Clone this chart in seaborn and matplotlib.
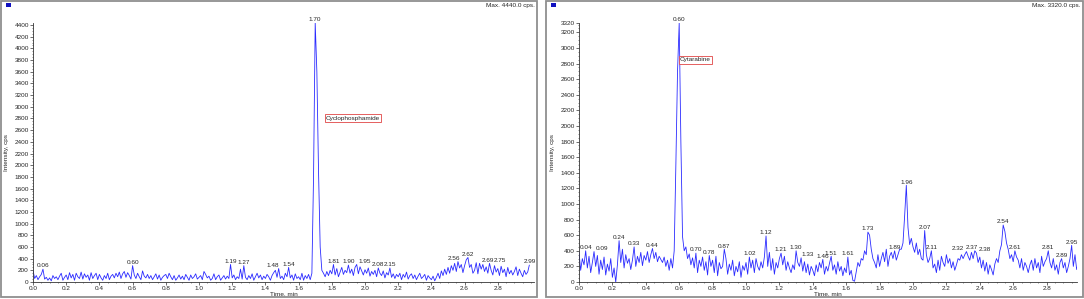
import numpy as np
import matplotlib.pyplot as plt
import seaborn as sns
from matplotlib.patches import Rectangle
from matplotlib.ticker import MultipleLocator

# --- data (cps every 0.01 min) ---
step = 0.01
left_cps = [
    200, 60, 110, 40, 90, 130, 220, 50, 80, 30,
    70, 20, 110, 60, 90, 40, 100, 150, 30, 80,
    120, 40, 160, 70, 130, 30, 150, 90, 60, 170,
    50, 140, 80, 120, 30, 160, 60, 110, 150, 40,
    130, 70, 30, 110, 60, 150, 40, 100, 130, 70,
    150, 90, 170, 60, 140, 180, 80, 160, 110, 50,
    280, 120, 60, 150, 90, 40, 190, 100, 70, 130,
    60, 110, 40, 90, 140, 50, 120, 30, 80, 110,
    130, 60, 150, 90, 40, 110, 30, 70, 120, 50,
    100, 40, 130, 80, 30, 120, 60, 90, 140, 50,
    80, 110, 40, 180, 130, 70, 100, 30, 60, 140,
    40, 90, 120, 30, 70, 110, 50, 100, 60, 300,
    70, 120, 40, 90, 60, 220, 50, 280, 80, 40,
    110, 60, 140, 30, 90, 150, 70, 120, 40, 100,
    60, 130, 90, 30, 110, 160, 200, 80, 230, 60,
    100, 40, 150, 90, 250, 70, 120, 30, 140, 60,
    90, 40, 150, 30, 110, 60, 130, 40, 150, 1800,
    4440, 3600, 1900, 600, 200, 150, 90, 180, 110, 200,
    140, 300, 120, 230, 90, 170, 250, 130, 200, 160,
    290, 150, 220, 110, 250, 300, 140, 260, 190, 120,
    210, 150, 240, 100, 180, 130, 200, 90, 240, 150,
    110, 190, 70, 160, 120, 240, 80, 140, 60, 130,
    90, 150, 40, 130, 80, 170, 50, 110, 140, 60,
    120, 40, 100, 150, 60, 90, 130, 30, 110, 70,
    40, 100, 20, 80, 150, 60, 190, 110, 220, 130,
    250, 150, 280, 200, 320, 180, 350, 240, 300, 160,
    280, 380, 420, 250, 300, 150, 200, 330, 140, 320,
    220, 300, 180, 260, 150, 320, 200, 120, 280, 170,
    230, 110, 270, 160, 220, 90, 250, 140, 200, 120,
    180, 260, 110, 220, 150, 90, 200, 130, 170, 290,
]
right_cps = [
    380, 150, 300, 220, 400, 180, 330, 120, 250, 390,
    200, 340, 100, 280, 160, 320, 90, 230, 140, 300,
    60, 180, 0, 220, 530, 250, 420, 180, 350, 240,
    300, 160, 280, 450, 200, 330, 250, 380, 210, 340,
    280, 390, 250, 350, 430, 300, 380, 260, 330, 290,
    250, 320, 200, 280, 150, 300, 180, 400, 1500, 2700,
    3320, 1800, 580, 400, 450, 300, 360, 220, 310, 180,
    370, 120, 280, 200, 320, 150, 260, 90, 340, 200,
    280, 120, 330, 80, 250, 170, 200, 420, 300, 100,
    230, 150, 280, 80, 200, 130, 260, 60, 210, 150,
    250, 100, 320, 180, 280, 120, 300, 200, 150, 260,
    180, 320, 590, 200, 380, 150, 300, 100, 250, 180,
    300, 370, 220, 330, 150, 260, 180, 120, 220, 160,
    400, 250, 200, 310, 140, 260, 120, 230, 90, 200,
    150, 80, 220, 130, 250, 180, 290, 100, 200, 140,
    240, 330, 150, 220, 100, 260, 140, 200, 80, 180,
    120, 320, 90, 150, 20, 10, 130, 250, 200, 300,
    280, 400, 350, 640, 600, 420, 300, 250, 180, 350,
    200, 300, 380, 260, 420, 200, 330, 380, 300, 400,
    280, 350, 420, 420, 500, 850, 1240, 700, 480, 560,
    450, 380, 500, 350, 420, 300, 280, 660, 350, 250,
    300, 400, 180, 230, 120, 280, 150, 330, 250, 200,
    350, 240, 300, 180, 260, 150, 220, 300, 280, 350,
    300, 350, 390, 330, 280, 380, 300, 400, 370, 250,
    320, 180, 280, 140, 250, 100, 220, 160, 90, 230,
    300, 250, 400, 480, 730, 650, 500, 420, 300, 350,
    260, 400, 320, 280, 180, 300, 150, 250, 200, 120,
    220, 280, 150, 300, 180, 250, 120, 330, 200, 260,
    300, 400, 250, 180, 300, 150, 220, 100, 250, 300,
    180, 250, 120, 200, 300, 470, 200, 350, 160, 240,
]
left_peaks = [0.06, 0.60, 1.19, 1.27, 1.48, 1.54, 1.70, 1.81, 1.90, 1.95,
              2.08, 2.15, 2.56, 2.62, 2.69, 2.75, 2.99]
right_peaks = [0.04, 0.09, 0.24, 0.33, 0.44, 0.60, 0.70, 0.78, 0.87, 1.02,
               1.12, 1.21, 1.30, 1.33, 1.46, 1.51, 1.61, 1.73, 1.89, 1.96,
               2.07, 2.11, 2.32, 2.37, 2.38, 2.54, 2.61, 2.81, 2.89, 2.95]
left_max, right_max = 4440.0, 3320.0
left_name, right_name = "Cyclophosphamide", "Cytarabine"

# label nudges (pixels) where peak labels crowd each other
left_nudge = {1.48: -6, 1.95: 8, 2.56: -4, 2.69: 8, 2.75: 10}
right_nudge = {0.09: 8, 1.33: 7, 2.32: -9, 2.37: -3, 2.38: 8}

sns.set_style("ticks")
plt.rcParams['font.family'] = ['Liberation Sans', 'DejaVu Sans']
FS = 4.6

W, H = 1084, 299
fig = plt.figure(figsize=(W / 100, H / 100), dpi=100)


def px_axes(x0, x1, ytop, ybot):
    return fig.add_axes([x0 / W, 1 - ybot / H, (x1 - x0) / W, (ybot - ytop) / H])


def frame(x0, x1, y0, y1):
    fig.add_artist(Rectangle((x0 / W, 1 - y1 / H), (x1 - x0) / W, (y1 - y0) / H,
                             transform=fig.transFigure, fill=False,
                             ec='#8f8f8f', lw=1.3))
    fig.add_artist(Rectangle(((x0 + 5) / W, 1 - 7 / H), 5 / W, 4 / H,
                             transform=fig.transFigure, fc='#1010c0', ec='none'))


def draw_panel(ax, cps, peaks, nudge, ymax, yticks, name, name_xy, xmax):
    t = np.round(np.arange(len(cps)) * step, 2)
    sns.lineplot(x=t, y=cps, ax=ax, color='#2a2aff', linewidth=0.6)
    ax.set_xlim(0, xmax)
    ax.set_ylim(0, ymax)
    sns.despine(ax=ax)
    for s in ['left', 'bottom']:
        ax.spines[s].set_linewidth(0.6)
        ax.spines[s].set_color('#333333')
    ax.set_yticks(yticks)
    ax.set_yticklabels([str(v) for v in yticks])
    ax.yaxis.set_minor_locator(MultipleLocator(50))
    ax.set_xticks(np.round(np.arange(0, 2.81, 0.2), 1))
    ax.set_xticklabels([f"{v:.1f}" for v in np.arange(0, 2.81, 0.2)])
    ax.xaxis.set_minor_locator(MultipleLocator(0.05))
    ax.tick_params(which='major', length=2, width=0.5, pad=1, labelsize=FS,
                   color='#333333')
    ax.tick_params(which='minor', length=1, width=0.4, color='#333333')
    ax.set_xlabel("Time, min", fontsize=FS)
    ax.set_ylabel("Intensity, cps", fontsize=FS)
    ax.xaxis.set_label_coords(0.5, -0.035)
    for p in peaks:
        i = int(np.argmin(np.abs(t - p)))
        dx = nudge.get(p, 0) * 0.72
        ax.annotate(f"{p:.2f}", (t[i], cps[i]), xytext=(dx, 0.5),
                    textcoords='offset points', ha='center', va='bottom',
                    fontsize=FS)
    ax.text(name_xy[0], name_xy[1], name, fontsize=FS, ha='left', va='center',
            bbox=dict(fc='white', ec='#e04545', lw=0.6, pad=0.9))
    ax.patch.set_alpha(0)


# left panel
frame(1, 537, 1, 297)
axl = px_axes(33, 534, 22.7, 282)
draw_panel(axl, left_cps, left_peaks, left_nudge, left_max,
           list(range(0, 4401, 200)), left_name, (1.765, 2808), 501 / 166)
axl.yaxis.set_label_coords(-24 / 501, 0.5)
fig.text(535 / W, 1 - 5 / H, f"Max. {left_max:.1f} cps.", ha='right', va='center',
         fontsize=FS)

# right panel
frame(546, 1083, 1, 297)
axr = px_axes(579, 1077, 23, 282)
draw_panel(axr, right_cps, right_peaks, right_nudge, right_max,
           list(range(0, 3201, 200)) + [3320], right_name, (0.605, 2846), 498 / 167)
axr.yaxis.set_label_coords(-24 / 498, 0.5)
fig.text(1080 / W, 1 - 5 / H, f"Max. {right_max:.1f} cps.", ha='right', va='center',
         fontsize=FS)

fig.savefig("out.png", dpi=100)
